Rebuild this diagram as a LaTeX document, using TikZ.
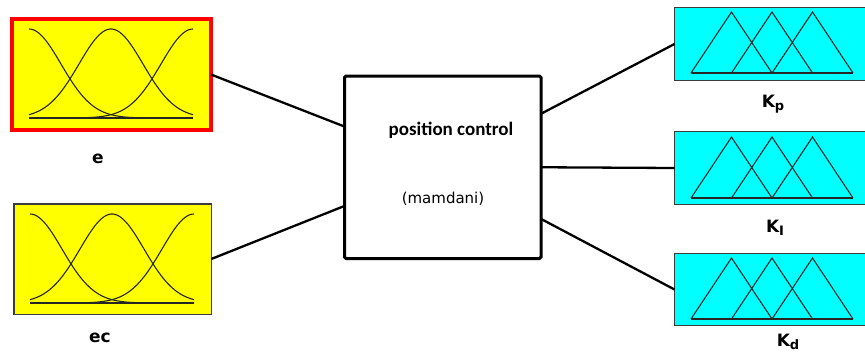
\documentclass[tikz,border=0pt]{standalone}
\usepackage{fontspec}
\usetikzlibrary{calc}
\setmainfont{DejaVu Sans}
\newfontfamily\calib{Carlito}
\definecolor{fyellow}{RGB}{255,255,0}
\definecolor{fcyan}{RGB}{0,255,255}
\definecolor{fred}{RGB}{255,0,0}
\definecolor{fborder}{RGB}{60,60,60}
\begin{document}
\begin{tikzpicture}[x=1pt,y=-1pt,
  mf/.style={draw=black!85, line width=1.1pt},
  fuzzyin/.style={draw=fborder, line width=1.5pt, fill=fyellow, inner sep=0pt, outer sep=0pt},
  fuzzyout/.style={draw=fborder, line width=1.5pt, fill=fcyan, inner sep=0pt, outer sep=0pt,
    minimum width=191.5pt},
  ctrlbox/.style={draw=black, line width=3pt, fill=white, rounded corners=1.5pt, inner sep=0pt, outer sep=0pt},
  conn/.style={draw=black, line width=2.3pt},
  lbl/.style={font=\bfseries\fontsize{17}{20}\selectfont, text=black, anchor=base, inner sep=0pt},
  gausspic/.pic={
    \draw[mf] (0,0) -- (164,0);
    \draw[mf] plot[domain=0:164, samples=70, smooth] (\x, {-89*exp(-0.5*(\x/32)^2)});
    \draw[mf] plot[domain=0:164, samples=70, smooth] (\x, {-89*exp(-0.5*((\x-82)/32)^2)});
    \draw[mf] plot[domain=0:164, samples=70, smooth] (\x, {-89*exp(-0.5*((\x-164)/32)^2)});
  },
  tripic/.pic={
    \draw[mf] (0,0) -- (162,0);
    \draw[mf] (0,0) -- (40.5,-61) -- (81,0);
    \draw[mf] (40.5,0) -- (81,-61) -- (121.5,0);
    \draw[mf] (81,0) -- (121.5,-61) -- (162,0);
  }
]
\useasboundingbox (0,0) rectangle (865,354);
\fill[white] (0,0) rectangle (865,354);

% input boxes
\node[fuzzyin, draw=fred, line width=4pt, minimum width=199pt, minimum height=111pt] (e) at (111.5,74.5) {};
\pic at (29,118) {gausspic};
\node[fuzzyin, minimum width=197.5pt, minimum height=110.5pt] (ec) at (112.5,259) {};
\pic at (30,303) {gausspic};

% controller
\node[ctrlbox, minimum width=196.5pt, minimum height=182.5pt] (ctrl) at (442.75,167.25) {};
\node[font=\calib\bfseries\fontsize{19}{22}\selectfont, anchor=base, inner sep=0pt] (title) at (451,135) {position control};
\node[font=\fontsize{15}{17}\selectfont, anchor=base, inner sep=0pt] (mam) at (443,203) {(mamdani)};

% output boxes
\node[fuzzyout, minimum height=73pt] (kp) at (770.25,44) {};
\pic at (691,73) {tripic};
\node[fuzzyout, minimum height=73pt] (ki) at (770.25,168) {};
\pic at (691,198) {tripic};
\node[fuzzyout, minimum height=72pt] (kd) at (770.25,289.5) {};
\pic at (691,319) {tripic};

% labels
\node[lbl] (le) at (98,163) {e};
\node[lbl] (lec) at (100,342) {ec};
\node[lbl] (lkp) at (773,107) {K\raisebox{-3pt}{\fontsize{13}{13}\selectfont p}};
\node[lbl] (lki) at (775,232) {K\raisebox{-3pt}{\fontsize{13}{13}\selectfont I}};
\node[lbl] (lkd) at (788,346) {K\raisebox{-3pt}{\fontsize{13}{13}\selectfont d}};

% connectors
\draw[conn] (e.east) -- ($(ctrl.north west)!0.277!(ctrl.south west)$);
\draw[conn] (ec.east) -- ($(ctrl.north west)!0.712!(ctrl.south west)$);
\draw[conn] ($(ctrl.north east)!0.207!(ctrl.south east)$) -- (kp.west);
\draw[conn] (ctrl.east) -- (ki.west);
\draw[conn] ($(ctrl.north east)!0.783!(ctrl.south east)$) -- (kd.west);
\end{tikzpicture}
\end{document}
